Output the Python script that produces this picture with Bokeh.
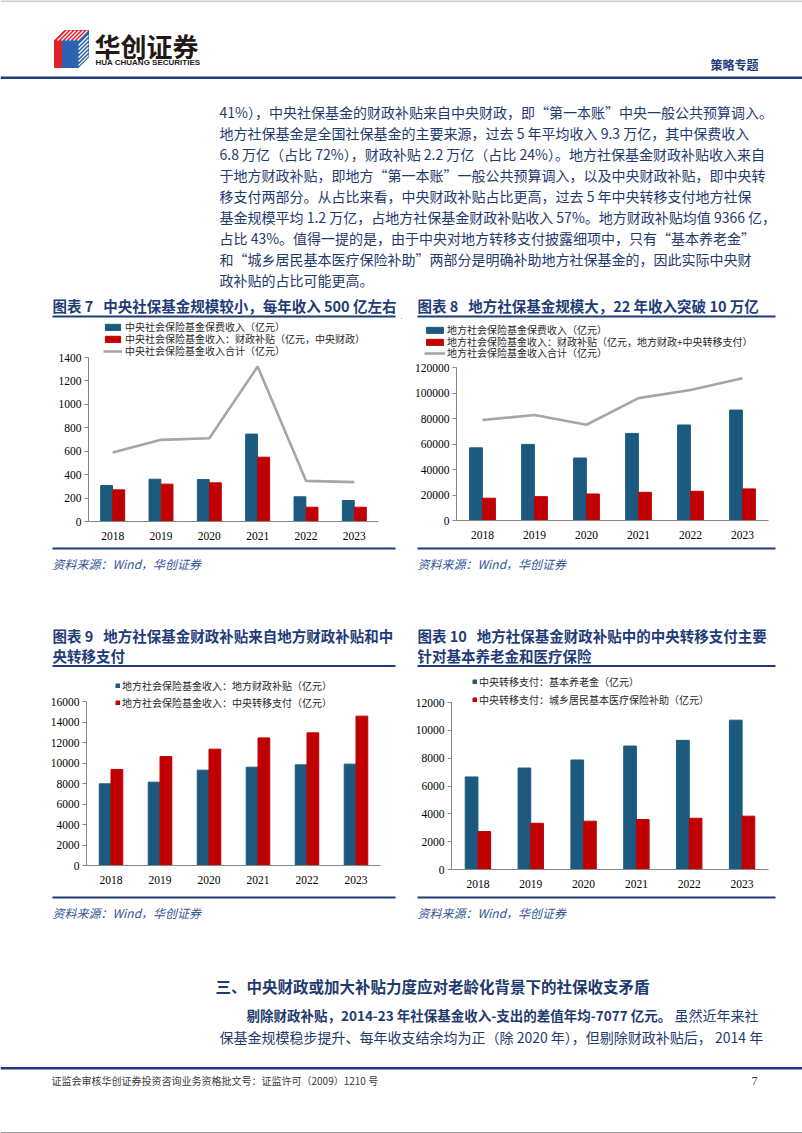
from bokeh.plotting import figure
from bokeh.models import (ColumnDataSource, FactorRange, Range1d, Legend, LegendItem,
                          FixedTicker, NumeralTickFormatter)
from bokeh.layouts import column, row
from bokeh.transform import dodge
from bokeh.embed import file_html
from bokeh.resources import INLINE
from bokeh.core.properties import value

# ---------------- data ----------------
years = ["2018", "2019", "2020", "2021", "2022", "2023"]

c7_premium = [307, 361, 358, 746, 211, 179]
c7_subsidy = [270, 319, 330, 549, 122, 122]
c7_total = [589, 697, 711, 1323, 347, 336]

c8_premium = [57000, 59700, 49000, 68300, 74900, 86600]
c8_subsidy = [17500, 18700, 20800, 22100, 22900, 24800]
c8_total = [78800, 82700, 75100, 96000, 102300, 111600]

c9_local = [7970, 8130, 9300, 9590, 9820, 9890]
c9_central = [9370, 10630, 11350, 12450, 12940, 14570]

c10_pension = [6650, 7290, 7870, 8870, 9280, 10730]
c10_medical = [2730, 3320, 3470, 3590, 3680, 3830]

c7_ticks = [0, 200, 400, 600, 800, 1000, 1200, 1400]
c8_ticks = [0, 20000, 40000, 60000, 80000, 100000, 120000]
c9_ticks = [0, 2000, 4000, 6000, 8000, 10000, 12000, 14000, 16000]
c10_ticks = [0, 2000, 4000, 6000, 8000, 10000, 12000]

c7_labels = ["中央社会保险基金保费收入（亿元）",
             "中央社会保险基金收入：财政补贴（亿元，中央财政）",
             "中央社会保险基金收入合计（亿元）"]
c8_labels = ["地方社会保险基金保费收入（亿元）",
             "地方社会保险基金收入：财政补贴（亿元，地方财政+中央转移支付）",
             "地方社会保险基金收入合计（亿元）"]
c9_labels = ["地方社会保险基金收入：地方财政补贴（亿元）",
             "地方社会保险基金收入：中央转移支付（亿元）"]
c10_labels = ["中央转移支付：基本养老金（亿元）",
              "中央转移支付：城乡居民基本医疗保险补助（亿元）"]

NB = "\u00a0"
titles = {
    7: ["图表 7" + NB * 3 + "中央社保基金规模较小，每年收入 500 亿左右"],
    8: ["图表 8" + NB * 3 + "地方社保基金规模大，22 年收入突破 10 万亿"],
    9: ["图表 9" + NB * 3 + "地方社保基金财政补贴来自地方财政补贴和中", "央转移支付"],
    10: ["图表 10" + NB * 3 + "地方社保基金财政补贴中的中央转移支付主要", "针对基本养老金和医疗保险"],
}
source_text = "资料来源：Wind，华创证券"

body_lines = [
    "41%），中央社保基金的财政补贴来自中央财政，即“第一本账”中央一般公共预算调入。",
    "地方社保基金是全国社保基金的主要来源，过去 5 年平均收入 9.3 万亿，其中保费收入",
    "6.8 万亿（占比 72%），财政补贴 2.2 万亿（占比 24%）。地方社保基金财政补贴收入来自",
    "于地方财政补贴，即地方“第一本账”一般公共预算调入，以及中央财政补贴，即中央转",
    "移支付两部分。从占比来看，中央财政补贴占比更高，过去 5 年中央转移支付地方社保",
    "基金规模平均 1.2 万亿，占地方社保基金财政补贴收入 57%。地方财政补贴均值 9366 亿，",
    "占比 43%。值得一提的是，由于中央对地方转移支付披露细项中，只有“基本养老金”",
    "和“城乡居民基本医疗保险补助”两部分是明确补助地方社保基金的，因此实际中央财",
    "政补贴的占比可能更高。",
]

# ---------------- style ----------------
CJK = "Noto Sans CJK SC"
SERIF = "Liberation Serif"
NAVY = "#1f3a6e"
TITLE = "#1f3c78"
SRC = "#2f5597"
BLUE = "#1b5a7e"
RED = "#c00000"
GRAY = "#a6a6a6"
AXIS = "#868686"
W = 802
LEG_H = 14  # approx. height of one legend row


def page_fig(x0, y0, w, h):
    p = figure(width=w, height=h, x_range=Range1d(x0, x0 + w), y_range=Range1d(y0 + h, y0),
               output_backend="svg", toolbar_location=None, x_axis_type=None,
               y_axis_type=None, min_border=0, outline_line_color=None,
               frame_align=False)
    p.background_fill_color = "white"
    p.border_fill_color = "white"
    return p


def txt(p, x, y, s, size, color, font=CJK, style="normal", align="left"):
    p.text(x=[x], y=[y], text=[s], text_font=value(font),
           text_font_size=value(f"{size}px"), text_color=color,
           text_font_style=style, text_align=align, text_baseline="middle")


def hline(p, x0, x1, y, color, width):
    p.segment(x0=[x0], y0=[y], x1=[x1], y1=[y], line_color=color, line_width=width)


def chart(ox, oy, w, h, FL, FR, FT, FB, ticks):
    ymax = ticks[-1]
    yend = ymax * (FB - oy) / (FB - FT)   # frame reaches the figure top; ymax sits at FT
    p = figure(width=w, height=h, x_range=FactorRange(factors=years),
               y_range=Range1d(0, yend), output_backend="svg", toolbar_location=None,
               min_border_left=FL - ox, min_border_right=ox + w - FR,
               min_border_top=0, min_border_bottom=oy + h - FB,
               outline_line_color=None, frame_align=False)
    p.background_fill_color = "white"
    p.border_fill_color = "white"
    p.xgrid.visible = False
    p.ygrid.visible = False
    p.yaxis.ticker = FixedTicker(ticks=ticks)
    p.yaxis.bounds = (0, ymax)
    p.yaxis.formatter = NumeralTickFormatter(format="0")
    p.yaxis.minor_tick_line_color = None
    p.yaxis.major_tick_in = 0
    p.yaxis.major_tick_out = 4
    p.yaxis.major_tick_line_color = AXIS
    p.yaxis.axis_line_color = AXIS
    p.yaxis.major_label_standoff = 3
    p.xaxis.major_tick_line_color = None
    p.xaxis.minor_tick_line_color = None
    p.xaxis.axis_line_color = AXIS
    p.xaxis.major_label_standoff = 4
    for ax in (p.xaxis, p.yaxis):
        ax.major_label_text_font = SERIF
        ax.major_label_text_font_size = "11.5px"
        ax.major_label_text_color = "#000000"
    return p


def leg1(p, r, label, x_left, yc, FL, FB, gw, gh, standoff):
    """One legend row whose glyph starts at page x x_left and whose centre is at page y yc."""
    leg = Legend(items=[LegendItem(label=label, renderers=[r])],
                 location=(x_left - FL, FB - yc - LEG_H / 2), orientation="vertical",
                 padding=0, margin=0, spacing=0, label_height=12,
                 glyph_width=gw, glyph_height=gh, label_standoff=standoff,
                 border_line_color=None, background_fill_alpha=0,
                 label_text_font=CJK, label_text_font_size="10px",
                 label_text_color="#262626")
    p.add_layout(leg)


# ---------------- top page part (y 0-318) ----------------
f0 = page_fig(0, 0, W, 318)
# logo
f0.patch([54, 64, 88, 78], [40, 30, 30, 40], color="#e0202a")
f0.patch([54, 62, 62, 54], [40, 40, 67, 67], color="#e0202a")
f0.patch([62, 78, 78, 62], [40, 40, 67, 67], color="#2d62b0")
f0.patch([78, 88, 88, 78], [40, 30, 57, 67], color="#2d62b0")
f0.segment(x0=[57, 61, 65, 69, 73, 77], y0=[40] * 6, x1=[67, 71, 75, 79, 83, 87],
           y1=[30] * 6, line_color="white", line_width=1.3)
f0.segment(x0=[78] * 6, y0=[45, 49, 53, 57, 61, 65], x1=[88] * 6,
           y1=[35, 39, 43, 47, 51, 55], line_color="white", line_width=1.3)
txt(f0, 94, 45, "华创证券", 26, "#231815", style="bold")
txt(f0, 95, 62, "HUA CHUANG SECURITIES", 8, "#231815", font="Liberation Sans", style="bold")
txt(f0, 758, 64, "策略专题", 12, TITLE, style="bold", align="right")
hline(f0, 0, W, 77.3, "#1f3c78", 2.6)
hline(f0, 0, W, 0.5, "#9a9a9a", 1)

for i, s in enumerate(body_lines):
    txt(f0, 219, 111 + 21.1 * i, s, 14, NAVY)

txt(f0, 52, 305, titles[7][0], 14.5, TITLE, style="bold")
txt(f0, 417, 305, titles[8][0], 14.5, TITLE, style="bold")
hline(f0, 52, 395, 316, TITLE, 2)
hline(f0, 417, 775, 316, TITLE, 2)

# ---------------- chart 7 (page y 318-545) ----------------
s7 = ColumnDataSource(dict(year=years, a=c7_premium, b=c7_subsidy, t=c7_total))
p7 = chart(0, 318, 401, 227, 88, 378, 357, 521, c7_ticks)
r7a = p7.vbar(x=dodge("year", -0.125, range=p7.x_range), top="a", width=0.245,
              source=s7, color=BLUE)
r7b = p7.vbar(x=dodge("year", 0.125, range=p7.x_range), top="b", width=0.245,
              source=s7, color=RED)
r7c = p7.line(x="year", y="t", source=s7, line_color=GRAY, line_width=2.6)
for r, lab, yc in zip([r7a, r7b, r7c], c7_labels, [327, 339, 351]):
    leg1(p7, r, lab, 103, yc, 88, 521, 19, 8, 3)

# ---------------- chart 8 legend strip (page y 318-361) ----------------
# legend-key proxies (zero-size, outside the visible range)
g8 = page_fig(401, 318, 401, 43)
d8a = g8.vbar(x=[0], top=[0], width=0, color=BLUE)
d8b = g8.vbar(x=[0], top=[0], width=0, color=RED)
d8c = g8.line(x=[0, 0], y=[0, 0], line_color=GRAY, line_width=2.6)
for r, lab, yc in zip([d8a, d8b, d8c], c8_labels, [330, 342, 353]):
    leg1(g8, r, lab, 424, yc, 401, 361, 21, 8, 2)

# ---------------- chart 8 (page y 361-545) ----------------
s8 = ColumnDataSource(dict(year=years, a=c8_premium, b=c8_subsidy, t=c8_total))
p8 = chart(401, 361, 401, 184, 456, 768, 367, 520, c8_ticks)
r8a = p8.vbar(x=dodge("year", -0.125, range=p8.x_range), top="a", width=0.245,
              source=s8, color=BLUE)
r8b = p8.vbar(x=dodge("year", 0.125, range=p8.x_range), top="b", width=0.245,
              source=s8, color=RED)
r8c = p8.line(x="year", y="t", source=s8, line_color=GRAY, line_width=2.6)

# ---------------- middle page part (y 545-670) ----------------
f1 = page_fig(0, 545, W, 125)
hline(f1, 52, 395, 548, TITLE, 2)
hline(f1, 417, 775, 548, TITLE, 2)
txt(f1, 52, 563, source_text, 12, SRC, style="italic")
txt(f1, 417, 563, source_text, 12, SRC, style="italic")
txt(f1, 52, 635, titles[9][0], 14.5, TITLE, style="bold")
txt(f1, 52, 655, titles[9][1], 14.5, TITLE, style="bold")
txt(f1, 417, 635, titles[10][0], 14.5, TITLE, style="bold")
txt(f1, 417, 655, titles[10][1], 14.5, TITLE, style="bold")
hline(f1, 52, 395, 665.5, TITLE, 2)
hline(f1, 417, 775, 665.5, TITLE, 2)

# ---------------- chart 9 ----------------
s9 = ColumnDataSource(dict(year=years, a=c9_local, b=c9_central))
p9 = chart(0, 670, 401, 220, 86, 380, 701, 865, c9_ticks)
r9a = p9.vbar(x=dodge("year", -0.12, range=p9.x_range), top="a", width=0.24,
              source=s9, color=BLUE)
r9b = p9.vbar(x=dodge("year", 0.12, range=p9.x_range), top="b", width=0.24,
              source=s9, color=RED)
for r, lab, yc in zip([r9a, r9b], c9_labels, [686, 703]):
    leg1(p9, r, lab, 115, yc, 86, 865, 5, 5, 2)

# ---------------- chart 10 ----------------
s10 = ColumnDataSource(dict(year=years, a=c10_pension, b=c10_medical))
p10 = chart(401, 670, 401, 220, 451, 768, 702, 869, c10_ticks)
r10a = p10.vbar(x=dodge("year", -0.12, range=p10.x_range), top="a", width=0.24,
                source=s10, color=BLUE)
r10b = p10.vbar(x=dodge("year", 0.12, range=p10.x_range), top="b", width=0.24,
                source=s10, color=RED)
for r, lab, yc in zip([r10a, r10b], c10_labels, [682, 700]):
    leg1(p10, r, lab, 472, yc, 451, 869, 5, 5, 2)

# ---------------- bottom page part (y 890-1133) ----------------
f2 = page_fig(0, 890, W, 243)
hline(f2, 52, 395, 897, TITLE, 2)
hline(f2, 417, 775, 897, TITLE, 2)
txt(f2, 52, 912, source_text, 12, SRC, style="italic")
txt(f2, 417, 912, source_text, 12, SRC, style="italic")
txt(f2, 215, 985, "三、中央财政或加大补贴力度应对老龄化背景下的社保收支矛盾", 15.5, NAVY, style="bold")
txt(f2, 246, 1014, "剔除财政补贴，2014-23 年社保基金收入-支出的差值年均-7077 亿元。", 13.5, NAVY, style="bold")
txt(f2, 758, 1014, "虽然近年来社", 14, NAVY, align="right")
txt(f2, 219, 1036, "保基金规模稳步提升、每年收支结余均为正（除 2020 年），但剔除财政补贴后， 2014 年", 14, NAVY)
hline(f2, 0, W, 1067.7, "#1f3c78", 2.6)
txt(f2, 51, 1080, "证监会审核华创证券投资咨询业务资格批文号：证监许可（2009）1210 号", 10, "#3a3a3a")
txt(f2, 757, 1080, "7", 12, "#3a3a3a", font=SERIF, align="right")
hline(f2, 0, W, 1132, "#9a9a9a", 1)

layout = column(f0, row(p7, column(g8, p8)), f1, row(p9, p10), f2)
open("out.html", "w").write(file_html(layout, INLINE))
